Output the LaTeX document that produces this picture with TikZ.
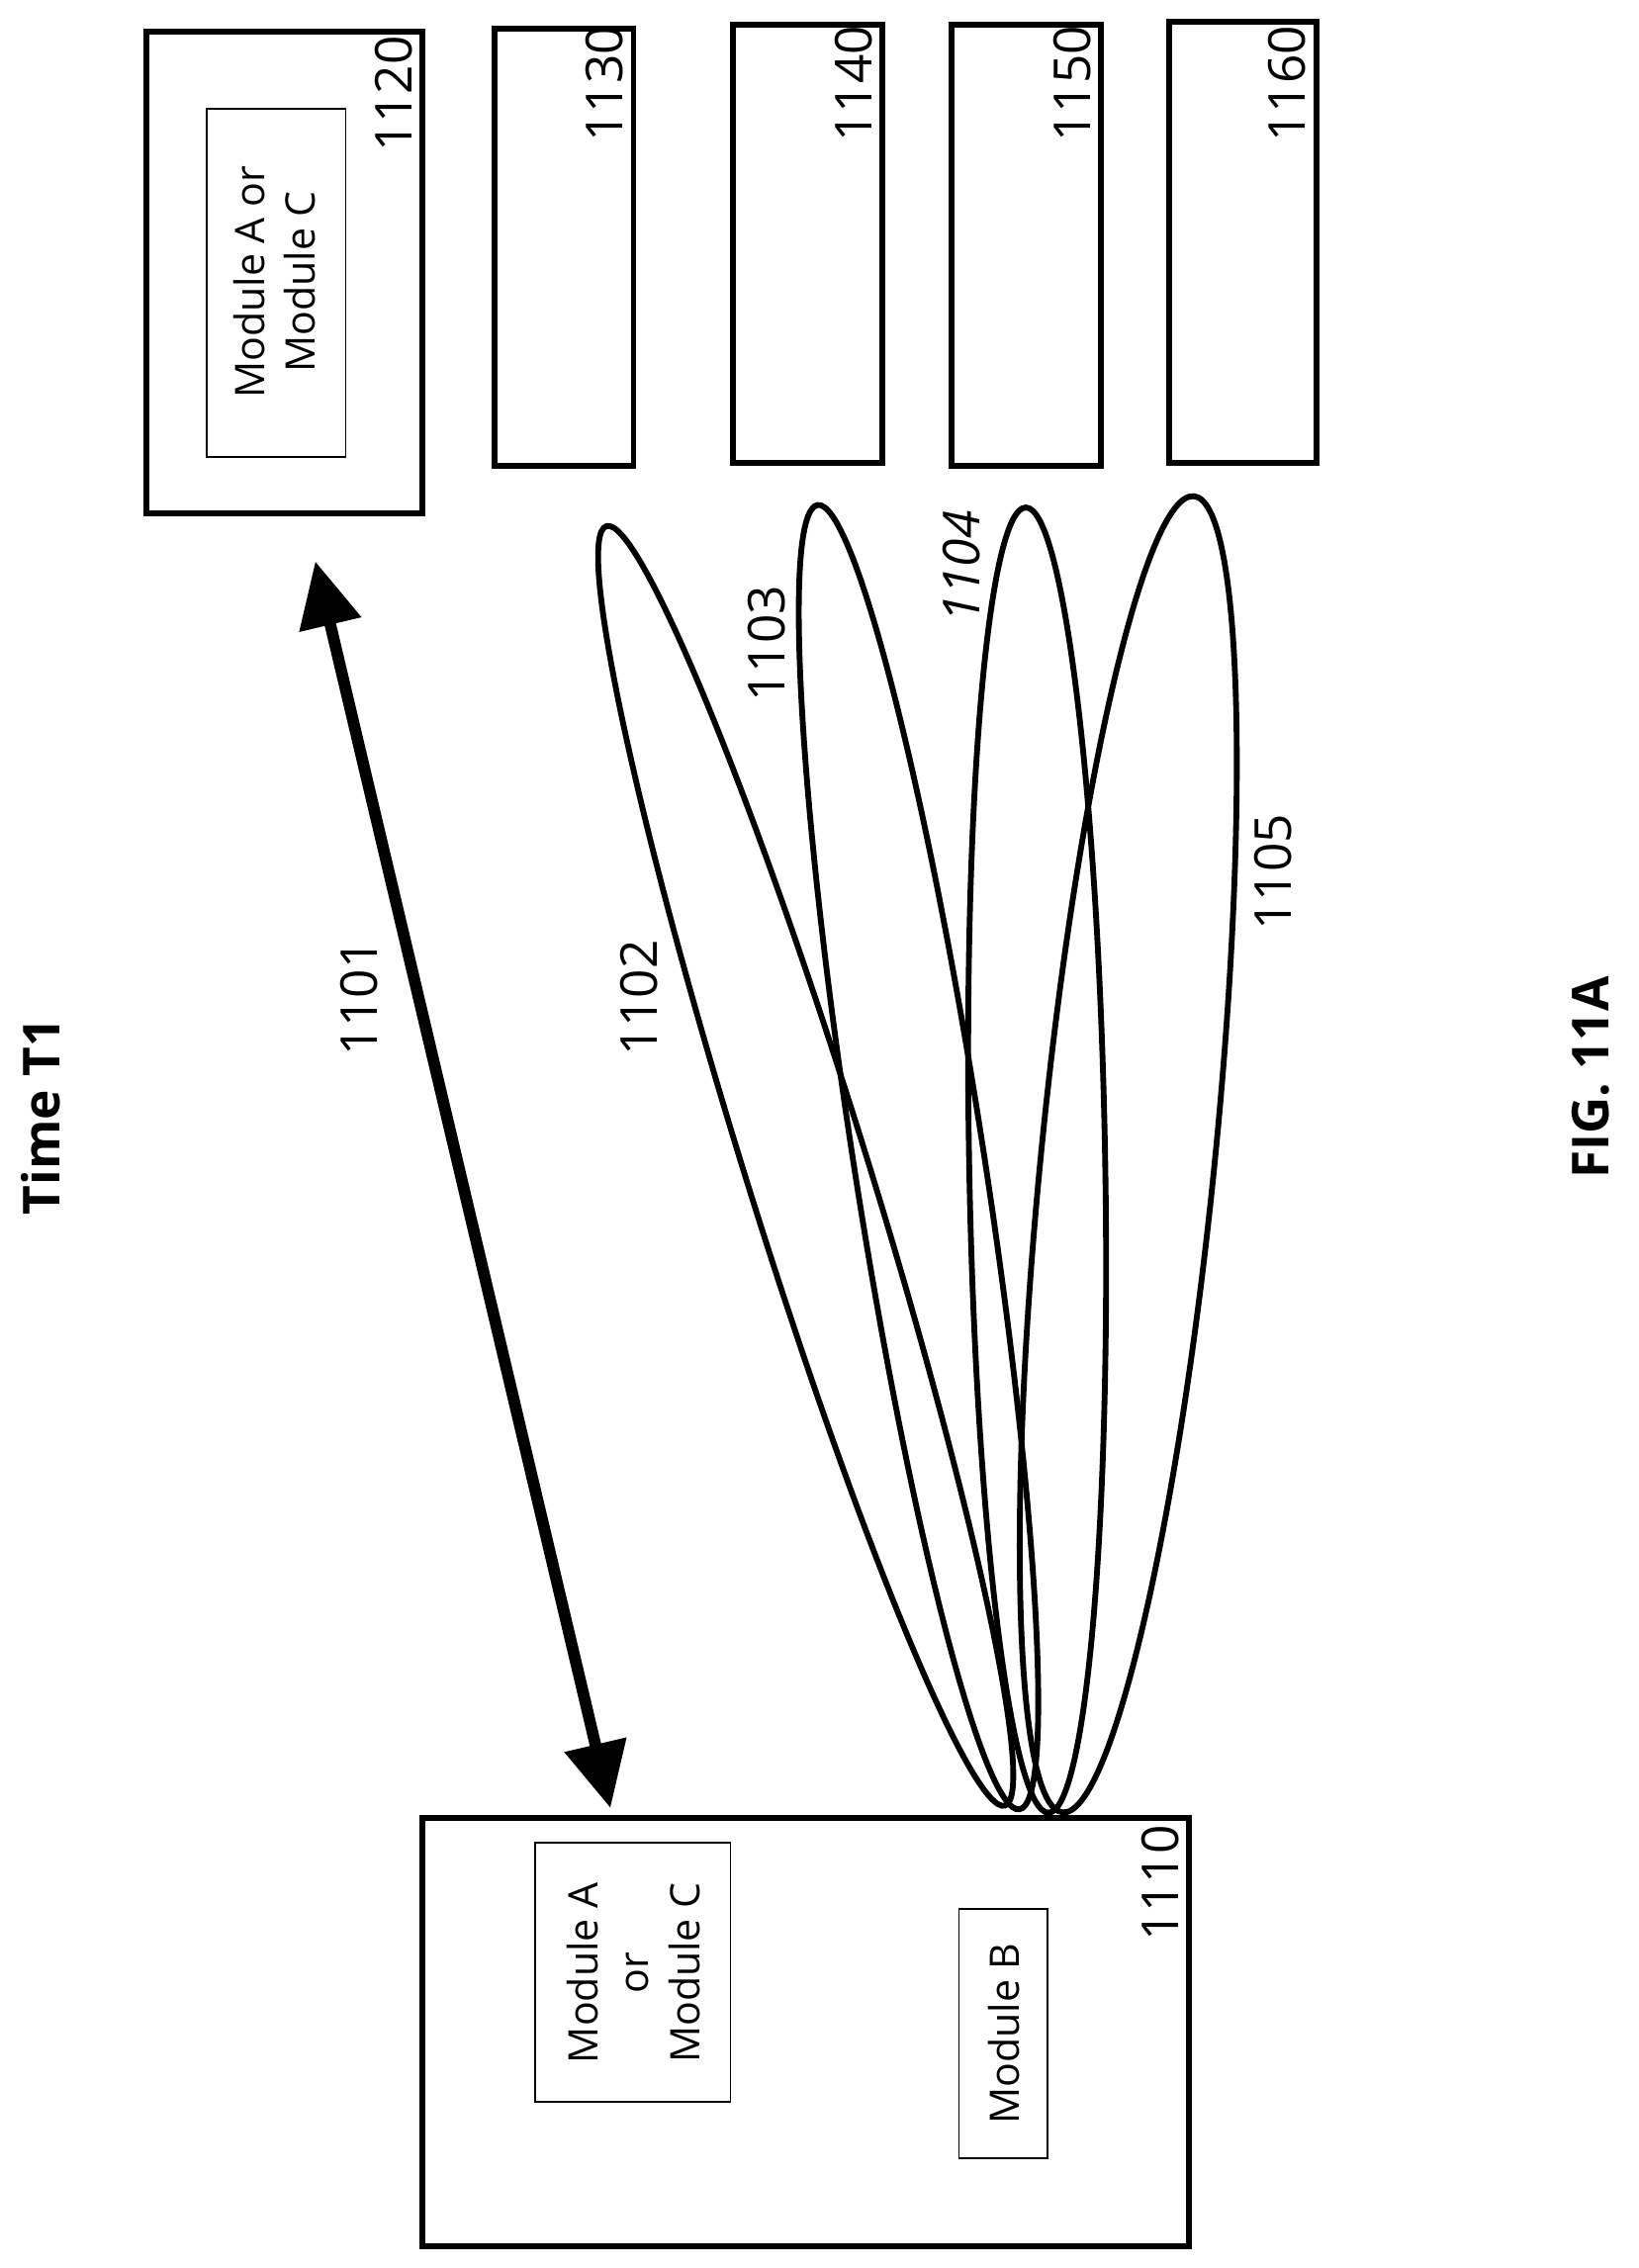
\documentclass[tikz,border=0pt]{standalone}
\usepackage{fontspec}
\setmainfont{Open Sans}
\usetikzlibrary{arrows.meta}

\begin{document}
\begin{tikzpicture}[x=0.01cm,y=-0.01cm]
    \tikzset{dev/.style={draw,line width=0.04cm,inner sep=0}}
    \tikzset{modbox/.style={draw,line width=0.012cm,inner sep=0}}
    \tikzset{num/.style={rotate=90,font=\fontsize{10}{12}\selectfont}}
    \tikzset{modtxt/.style={rotate=90,font=\fontsize{8}{10}\selectfont,align=center}}
    \tikzset{loop/.style={line width=0.04cm}}
    \useasboundingbox (0,0) rectangle (1133,1568);

    % devices
    \draw[dev] (101,22) rectangle (292,355);
    \draw[modbox] (143,75) rectangle (239,316);
    \node(m1120)[modtxt] at (190,195) {Module A or\\Module C};
    \node(n1120)[num] at (272,65) {1120};
    \draw[dev] (342,20) rectangle (438,322);
    \node(n1130)[num] at (418,58) {1130};
    \draw[dev] (507,17) rectangle (610,320);
    \node(n1140)[num] at (590,58) {1140};
    \draw[dev] (658,17) rectangle (761,322);
    \node(n1150)[num] at (741,58) {1150};
    \draw[dev] (808,15) rectangle (910,320);
    \node(n1160)[num] at (890,58) {1160};

    \draw[dev] (292,1257) rectangle (822,1553);
    \draw[modbox] (370,1274) rectangle (505,1453);
    \node(mAC)[modtxt] at (438,1364) {Module A\\or\\Module C};
    \draw[modbox] (663,1320) rectangle (724,1492);
    \node(mB)[modtxt] at (694,1406) {Module B};
    \node(n1110)[num] at (802,1302) {1110};

    % link
    \coordinate(a1) at (422,1250);
    \coordinate(a2) at (218,388);
    \draw[line width=0.08cm,{Triangle[length=0.45cm,width=0.42cm]}-{Triangle[length=0.45cm,width=0.42cm]}] (a1) -- (a2);
    \node(n1101)[num] at (248,690) {1101};

    % beams
    \draw[loop,rotate around={107.3:(557,806)}] (557,806) ellipse [x radius=4.63cm,y radius=0.42cm];
    \draw[loop,rotate around={98.8:(635,800)}] (635,800) ellipse [x radius=4.56cm,y radius=0.45cm];
    \draw[loop,rotate around={91:(717,802)}] (717,802) ellipse [x radius=4.51cm,y radius=0.47cm];
    \draw[loop,rotate around={84.3:(780,798)}] (780,798) ellipse [x radius=4.57cm,y radius=0.6cm];
    \node(n1102)[num] at (442,690) {1102};
    \node(n1103)[num] at (530,445) {1103};
    \node(n1104)[num,font=\fontsize{10}{12}\selectfont\itshape] at (665,392) {1104};
    \node(n1105)[num] at (880,603) {1105};

    \node(title)[num,font=\fontsize{10}{12}\selectfont\bfseries] at (28,772) {Time T1};
    \node(fig)[num,font=\fontsize{10}{12}\selectfont\bfseries] at (1100,745) {FIG. 11A};
\end{tikzpicture}
\end{document}
